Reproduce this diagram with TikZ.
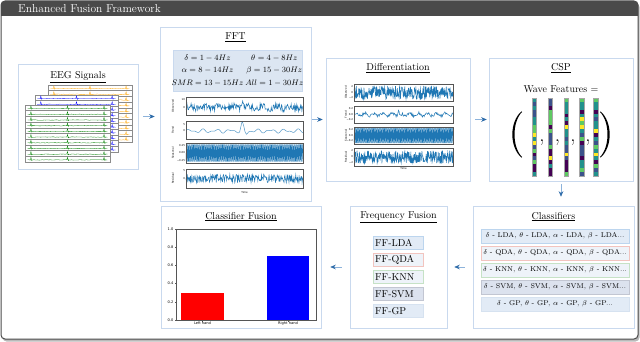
\documentclass[tikz,border=0pt]{standalone}
\usepackage{fontspec}
\setsansfont{DejaVu Sans}
\usetikzlibrary{positioning,arrows.meta,calc}

\definecolor{framegray}{HTML}{4A4A4A}
\definecolor{boxline}{HTML}{C9D9EE}
\definecolor{bandfill}{HTML}{DCE6F2}
\definecolor{rowfill}{HTML}{E2EBF6}
\definecolor{rowlight}{HTML}{EEF3F9}
\definecolor{svmfill}{HTML}{DCE2EE}
\definecolor{lineblue}{HTML}{BCD5EE}
\definecolor{linered}{HTML}{F2C4BF}
\definecolor{linegreen}{HTML}{C6E2C6}
\definecolor{linegray}{HTML}{C2C6D2}
\definecolor{linepale}{HTML}{D6E2F0}
\definecolor{arrowblue}{HTML}{2C6AA8}
\definecolor{arrowline}{HTML}{8DB3DB}
\definecolor{sigblue}{HTML}{1F77B4}
\definecolor{axisgray}{HTML}{555555}
\definecolor{eegframe}{HTML}{8C8C8C}
\definecolor{eegorange}{HTML}{FFA500}
\definecolor{eegblue}{HTML}{0000FF}
\definecolor{eeggreen}{HTML}{008000}
\definecolor{vira}{HTML}{440154}
\definecolor{virb}{HTML}{3B528B}
\definecolor{virc}{HTML}{21918C}
\definecolor{vird}{HTML}{5EC962}
\definecolor{vire}{HTML}{FDE725}

\tikzset{
  stagebox/.style={draw=boxline, line width=0.5pt, fill=white, inner sep=0pt},
  stagetitle/.style={anchor=north, inner sep=0pt, yshift=-6pt},
  flow/.style={-{Stealth[length=5.5pt, width=4.5pt, color=arrowblue]}, draw=arrowline, line width=0.6pt},
  clsrow/.style={draw=#1, line width=0.4pt, minimum width=148pt, minimum height=14pt, inner sep=0pt, font=\scriptsize},
  ffrow/.style={draw=#1, line width=0.4pt, text width=46pt, minimum height=13pt, inner sep=2pt, align=left, anchor=west},
  tinytext/.style={font=\sffamily\fontsize{2.6}{3}\selectfont, inner sep=0.3pt},
  charttext/.style={font=\sffamily\fontsize{3.6}{4}\selectfont, inner sep=0.5pt},
}

\begin{document}
\begin{tikzpicture}[x=1pt, y=-1pt]
  \useasboundingbox (0,0) rectangle (640,342);
  \pgfmathsetseed{11}

  % ----- frame and title bar -----
  \fill[gray!55, rounded corners=4pt] (2.5,3) rectangle (639.5,341.5);
  \fill[white, rounded corners=4pt] (1,1) rectangle (638,339);
  \begin{scope}
    \clip[rounded corners=4pt] (1,1) rectangle (638,339);
    \fill[framegray] (1,1) rectangle (638,16.5);
  \end{scope}
  \draw[framegray, line width=1pt, rounded corners=4pt] (1,1) rectangle (638,339);
  \node[anchor=west, white, inner sep=0pt, font=\fontsize{11.5}{13}\selectfont] (maintitle) at (18,8.5) {Enhanced Fusion Framework};

  % ----- stage boxes -----
  \node[stagebox, minimum width=120pt, minimum height=105pt] (eeg)  at (78,116.5) {};
  \node[stagebox, minimum width=151pt, minimum height=174pt] (fft)  at (235.5,114) {};
  \node[stagebox, minimum width=144pt, minimum height=123pt] (diff) at (398,119.5) {};
  \node[stagebox, minimum width=144pt, minimum height=123pt] (csp)  at (561,119.5) {};
  \node[stagebox, minimum width=161pt, minimum height=122pt] (cls)  at (553.5,267) {};
  \node[stagebox, minimum width=97pt,  minimum height=122pt] (ff)   at (398.5,267) {};
  \node[stagebox, minimum width=160pt, minimum height=122pt] (cf)   at (241,267) {};

  \node[stagetitle, yshift=-2pt] (eegtitle) at (eeg.north) {\underline{EEG Signals}};
  \node[stagetitle] (ffttitle)  at (fft.north)  {\underline{FFT}};
  \node[stagetitle] (difftitle) at (diff.north) {\underline{Differentiation}};
  \node[stagetitle] (csptitle)  at (csp.north)  {\underline{CSP}};
  \node[stagetitle] (clstitle)  at (cls.north)  {\underline{Classifiers}};
  \node[stagetitle] (fftitle)   at (ff.north)   {\underline{Frequency Fusion}};
  \node[stagetitle] (cftitle)   at (cf.north)   {\underline{Classifier Fusion}};

  % ----- EEG sheets -----
  \foreach \xa/\ya/\w/\col in {48/85/84/eegorange, 35/95/83/eegblue, 25/105/85/eeggreen}{
    \foreach \row in {0,...,9}{
      \pgfmathsetmacro{\yt}{\ya+\row*5.7}
      \pgfmathsetmacro{\yc}{\yt+3.6}
      \draw[eegframe, fill=white, line width=0.4pt] (\xa,\yt) rectangle ++(\w,5.7);
      \draw[\col, line width=0.3pt] plot[domain=0.03:0.97, samples=50] ({\xa+\x*\w},{\yc+0.25*rand});
      \foreach \sp in {0.07,0.5,0.93}
        \draw[\col, line width=0.3pt] ({\xa+\sp*\w-0.8},\yc) -- ++(0.8,-2.6) -- ++(0.8,3.3) -- ++(0.6,-0.7);
    }
  }

  % ----- FFT bands -----
  \node[draw=boxline, fill=bandfill, minimum width=129pt, minimum height=41pt, inner sep=0pt] (bands) at (237.5,70.5) {};
  \node[font=\footnotesize, inner sep=0pt] (bandtext) at (bands.center) {%
    \renewcommand{\arraystretch}{1.3}%
    \begin{tabular}{@{}c@{\hspace{2pt}}c@{}}
      $\delta=1-4Hz$ & $\theta=4-8Hz$\\
      $\alpha=8-14Hz$ & $\beta=15-30Hz$\\
      $SMR=13-15Hz$ & $All=1-30Hz$
    \end{tabular}};

  % panel frame: x, y, width, height, label
  \def\labgap{13}
  \def\sigframe#1#2#3#4#5{%
    \draw[axisgray, line width=0.4pt] (#1,#2) rectangle ++(#3,#4);
    \node[tinytext, rotate=90] at ({#1-\labgap},{#2+#4/2}) {#5};
    \foreach \tk in {1,...,9}
      \draw[axisgray, line width=0.2pt] ({#1+\tk*#3/10},{#2+#4}) -- ++(0,0.9);
  }

  % ----- FFT decomposition -----
  \begin{scope}[sigblue, line width=0.5pt]
    \draw plot[domain=0:1, samples=230] ({186+\x*117},{107.5+3.4*rand-1.2*sin(\x*2900)-5*max(0,1-abs(\x-0.48)/0.018)});
    \draw[sigblue!75, line width=0.5pt] plot[domain=0:1, samples=160]
      ({186+\x*117},{131-1.3*sin(\x*3100)-0.9*sin(\x*5300+40)-8*max(0,1-abs(\x-0.48)/0.022)+3*max(0,1-abs(\x-0.515)/0.02)});
    \draw plot[domain=0:420, samples=421] ({186+\x/420*117},{153+8.5*sin(mod(\x,4)*90)});
    \draw plot[domain=0:1, samples=260] ({186+\x*117},{178.5+4.3*rand});
  \end{scope}
  \sigframe{186}{97}{117}{18}{Observed}
  \sigframe{186}{121}{117}{18}{Trend}
  \sigframe{186}{143}{117}{20}{Seasonal}
  \sigframe{186}{169}{117}{19}{Residual}
  \node[tinytext] (ffttime) at (244.5,192.5) {Time};
  \foreach \y/\lab in {99.5/10, 107.5/0, 124.5/5, 131/0, 145.5/0.25, 153/0.00, 160.5/−0.25, 171/5, 178.5/0}
    \node[tinytext, anchor=east] at (185.5,\y) {\lab};

  % ----- differentiation -----
  \begin{scope}[sigblue, line width=0.5pt]
    \draw plot[domain=0:1, samples=330] ({354+\x*99},{92.5+6.8*rand});
    \draw plot[domain=0:1, samples=170] ({354+\x*99},{114.5+1.5*rand-1.4*sin(\x*4000)-5*max(0,1-abs(\x-0.45)/0.015)+3*max(0,1-abs(\x-0.47)/0.015)});
    \draw plot[domain=0:360, samples=361] ({354+\x/360*99},{135.5+7.5*sin(mod(\x,4)*90)});
    \draw plot[domain=0:1, samples=330] ({354+\x*99},{157+6.5*rand});
  \end{scope}
  \def\labgap{8}
  \sigframe{354}{84}{99}{17}{Observed}
  \sigframe{354}{106}{99}{17}{Trend}
  \sigframe{354}{127}{99}{17}{Seasonal}
  \sigframe{354}{148}{99}{18}{Residual}
  \node[tinytext] (difftime) at (403.5,169) {Time};
  \foreach \y/\lab in {87/2, 92.5/0, 98/−2, 109/0.2, 114.5/0.0, 120/−0.2, 130/0.2, 135.5/0.0, 141/−0.2, 151/2, 157/0, 163/−2}
    \node[tinytext, anchor=east] at (353.5,\y) {\lab};

  % ----- CSP features -----
  \node[inner sep=0pt] (wavelabel) at (561,89) {Wave Features $=$};
  \pgfmathdeclarerandomlist{viridis}{{vira}{virb}{virb}{virc}{virc}{virc}{vird}{vire}}
  \foreach \bx in {532,548,564,579.5,593.5}{
    \foreach \kk in {0,...,19}{
      \pgfmathrandomitem{\cc}{viridis}
      \fill[\cc] (\bx,{98+\kk*3.9}) rectangle ++(4.5,3.9);
    }
    \draw[gray!70, line width=0.6pt] (\bx,98) rectangle ++(4.5,78);
  }
  % big brackets
  \fill (522,112) .. controls (512,122) and (512,147) .. (522,157)
        -- (521.4,157.6) .. controls (509.3,147) and (509.3,122) .. (521.4,111.4) -- cycle;
  \fill (600,112) .. controls (610,122) and (610,147) .. (600,157)
        -- (600.6,157.6) .. controls (612.7,147) and (612.7,122) .. (600.6,111.4) -- cycle;
  \foreach \cx in {542,557.5,573,588}
    \node[inner sep=0pt, font=\huge] at (\cx,143) {,};

  % ----- classifiers -----
  \foreach \kk/\m/\col/\f in {0/LDA/lineblue/rowfill, 1/QDA/linered/rowlight, 2/KNN/linegreen/rowlight, 3/SVM/linegray/svmfill, 4/GP/linepale/rowfill}
    \node[clsrow=\col, fill=\f] (cls\m) at (555,{236+17*\kk}) {$\delta$ - \m, $\theta$ - \m, $\alpha$ - \m, $\beta$ - \m...};

  % ----- frequency fusion -----
  \foreach \kk/\m/\col/\f in {0/LDA/lineblue/rowfill, 1/QDA/linered/rowlight, 2/KNN/linegreen/rowlight, 3/SVM/linegray/svmfill, 4/GP/linepale/rowfill}
    \node[ffrow=\col, fill=\f] (ff\m) at (373,{243+17*\kk}) {FF-\m};

  % ----- classifier fusion chart -----
  \fill[red]  (181,320) rectangle (224,{320-91*0.3});
  \fill[blue] (267,320) rectangle (309,{320-91*0.7});
  \draw[axisgray, line width=0.5pt] (176,229) rectangle (316,320);
  \foreach \val/\lab in {0/0.0, 1/0.2, 2/0.4, 3/0.6, 4/0.8, 5/1.0}{
    \draw[axisgray, line width=0.3pt] (176,{320-18.2*\val}) -- ++(-1.5,0);
    \node[charttext, anchor=east] at (174,{320-18.2*\val}) {\lab};
  }
  \draw[axisgray, line width=0.3pt] (202.5,320) -- ++(0,1.5) (288,320) -- ++(0,1.5);
  \node[charttext, anchor=north] (lefthand)  at (202.5,321.5) {Left hand};
  \node[charttext, anchor=north] (righthand) at (288,321.5) {Right hand};

  % ----- flow arrows -----
  \draw[flow, shorten <=5pt, shorten >=5pt] (eeg.east) -- (eeg.east -| fft.west);
  \draw[flow, shorten <=1pt, shorten >=3pt] (fft.east |- diff.west) -- (diff.west);
  \draw[flow, shorten <=5pt, shorten >=2pt] (diff.east) -- (csp.west);
  \draw[flow, shorten <=3pt, shorten >=9pt] (csp.south) -- (csp.south |- cls.north);
  \draw[flow, shorten <=8pt, shorten >=7pt] (cls.west) -- (cls.west -| ff.east);
  \draw[flow, shorten <=8pt, shorten >=9pt] (ff.west) -- (ff.west -| cf.east);
\end{tikzpicture}
\end{document}
